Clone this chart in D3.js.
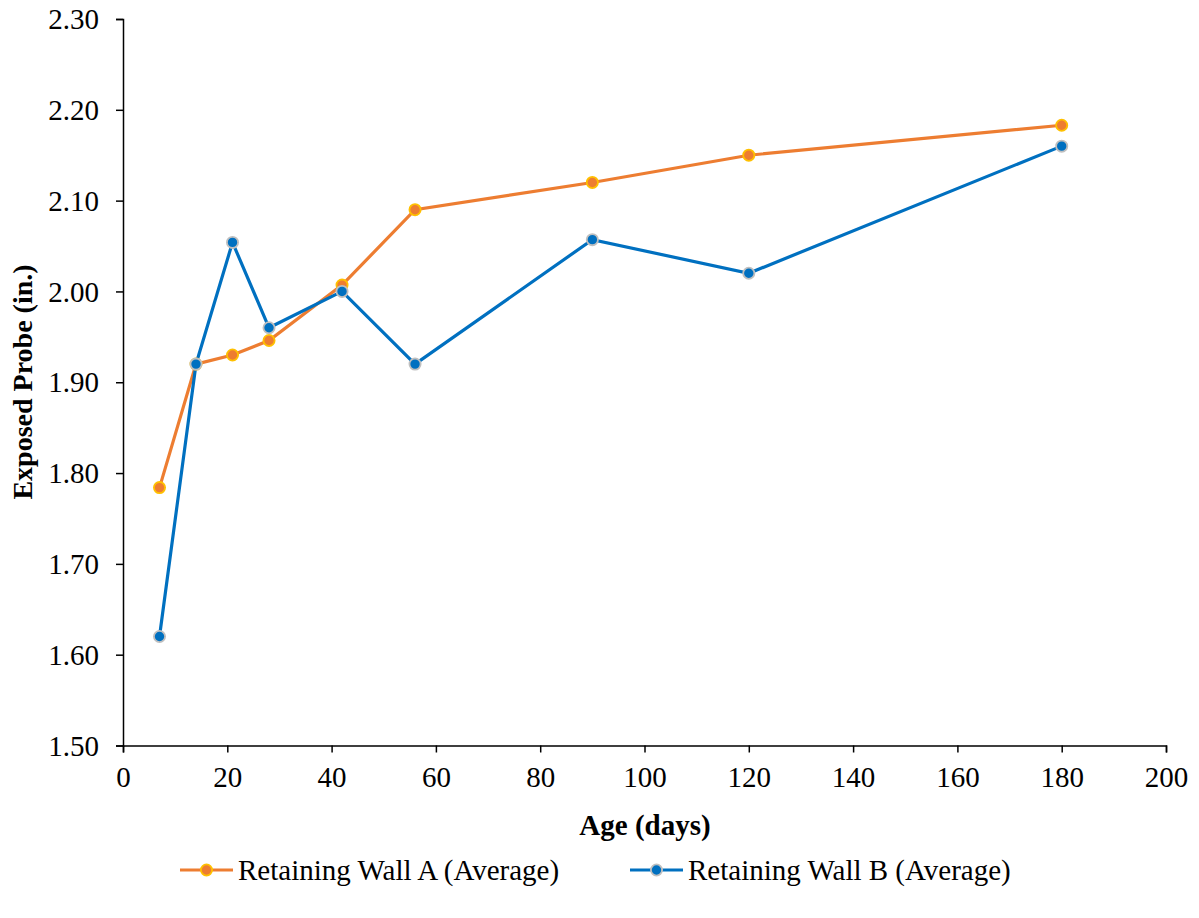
<!DOCTYPE html>
<html><head><meta charset="utf-8">
<script src="https://cdn.jsdelivr.net/npm/d3@7"></script>
<style>body{margin:0;background:#fff;} svg{display:block;} svg text{font-family:"Liberation Serif","Times New Roman",serif;}</style>
</head><body>
<svg id="c" width="1199" height="918"></svg>
<script>
const ages = [7, 14, 21, 28, 42, 56, 90, 120, 180];
const wallA = [1.784, 1.92, 1.93, 1.946, 2.007, 2.09, 2.12, 2.15, 2.183];
const wallB = [1.62, 1.92, 2.054, 1.96, 2.00, 1.92, 2.057, 2.02, 2.16];
const seriesNames = ["Retaining Wall A (Average)", "Retaining Wall B (Average)"];
const xTicks = [0, 20, 40, 60, 80, 100, 120, 140, 160, 180, 200];
const yTicks = [1.5, 1.6, 1.7, 1.8, 1.9, 2.0, 2.1, 2.2, 2.3];

const FONT = "Liberation Serif";
const svg = d3.select("#c");
const L = 123, R = 1166, T = 19, B = 745.5;
const x = d3.scaleLinear().domain([0, 200]).range([L, R]);
const y = d3.scaleLinear().domain([1.5, 2.3]).range([B, T]);

const xAxis = svg.append("g").attr("transform", `translate(0,${B})`)
  .call(d3.axisBottom(x).tickValues(xTicks).tickSize(7).tickPadding(14).tickFormat(d3.format("d")));
const yAxis = svg.append("g").attr("transform", `translate(${L},0)`)
  .call(d3.axisLeft(y).tickValues(yTicks).tickSize(7).tickPadding(17).tickFormat(d3.format(".2f")));
[xAxis, yAxis].forEach(g => {
  g.attr("font-family", FONT).attr("font-size", 29);
  g.selectAll("path,line").attr("stroke", "#000").attr("stroke-width", 1.5);
  g.selectAll("text").attr("fill", "#000");
});
yAxis.selectAll("text").attr("dy", "0.33em");

svg.append("text").attr("x", 645).attr("y", 835).attr("text-anchor", "middle")
  .attr("font-family", FONT).attr("font-size", 29).attr("font-weight", "bold").text("Age (days)");
svg.append("text").attr("transform", "translate(32,382) rotate(-90)").attr("text-anchor", "middle")
  .attr("font-family", FONT).attr("font-size", 28).attr("font-weight", "bold").text("Exposed Probe (in.)");

const styles = [
  {line: "#ED7D31", fill: "#ED7D31", stroke: "#FFC000", data: wallA},
  {line: "#0070C0", fill: "#0070C0", stroke: "#BFBFBF", data: wallB}
];
const lineGen = d3.line().x(d => x(d[0])).y(d => y(d[1]));
styles.forEach(s => {
  const pts = ages.map((a, i) => [a, s.data[i]]);
  svg.append("path").datum(pts).attr("d", lineGen).attr("fill", "none")
    .attr("stroke", s.line).attr("stroke-width", 3.2);
});
styles.forEach(s => {
  const pts = ages.map((a, i) => [a, s.data[i]]);
  svg.append("g").selectAll("circle").data(pts).join("circle")
    .attr("cx", d => x(d[0])).attr("cy", d => y(d[1])).attr("r", 5.6)
    .attr("fill", s.fill).attr("stroke", s.stroke).attr("stroke-width", 1.8);
});

// legend
const legX = [180, 630];
styles.forEach((s, i) => {
  const g = svg.append("g").attr("transform", `translate(${legX[i]},870)`);
  g.append("line").attr("x1", 0).attr("x2", 53).attr("y1", 0).attr("y2", 0)
    .attr("stroke", s.line).attr("stroke-width", 3.2);
  g.append("circle").attr("cx", 26.5).attr("cy", 0).attr("r", 5.6)
    .attr("fill", s.fill).attr("stroke", s.stroke).attr("stroke-width", 1.8);
  g.append("text").attr("x", 58).attr("y", 0).attr("dy", "0.33em")
    .attr("font-family", FONT).attr("font-size", 29).text(seriesNames[i]);
});
</script>
</body></html>
